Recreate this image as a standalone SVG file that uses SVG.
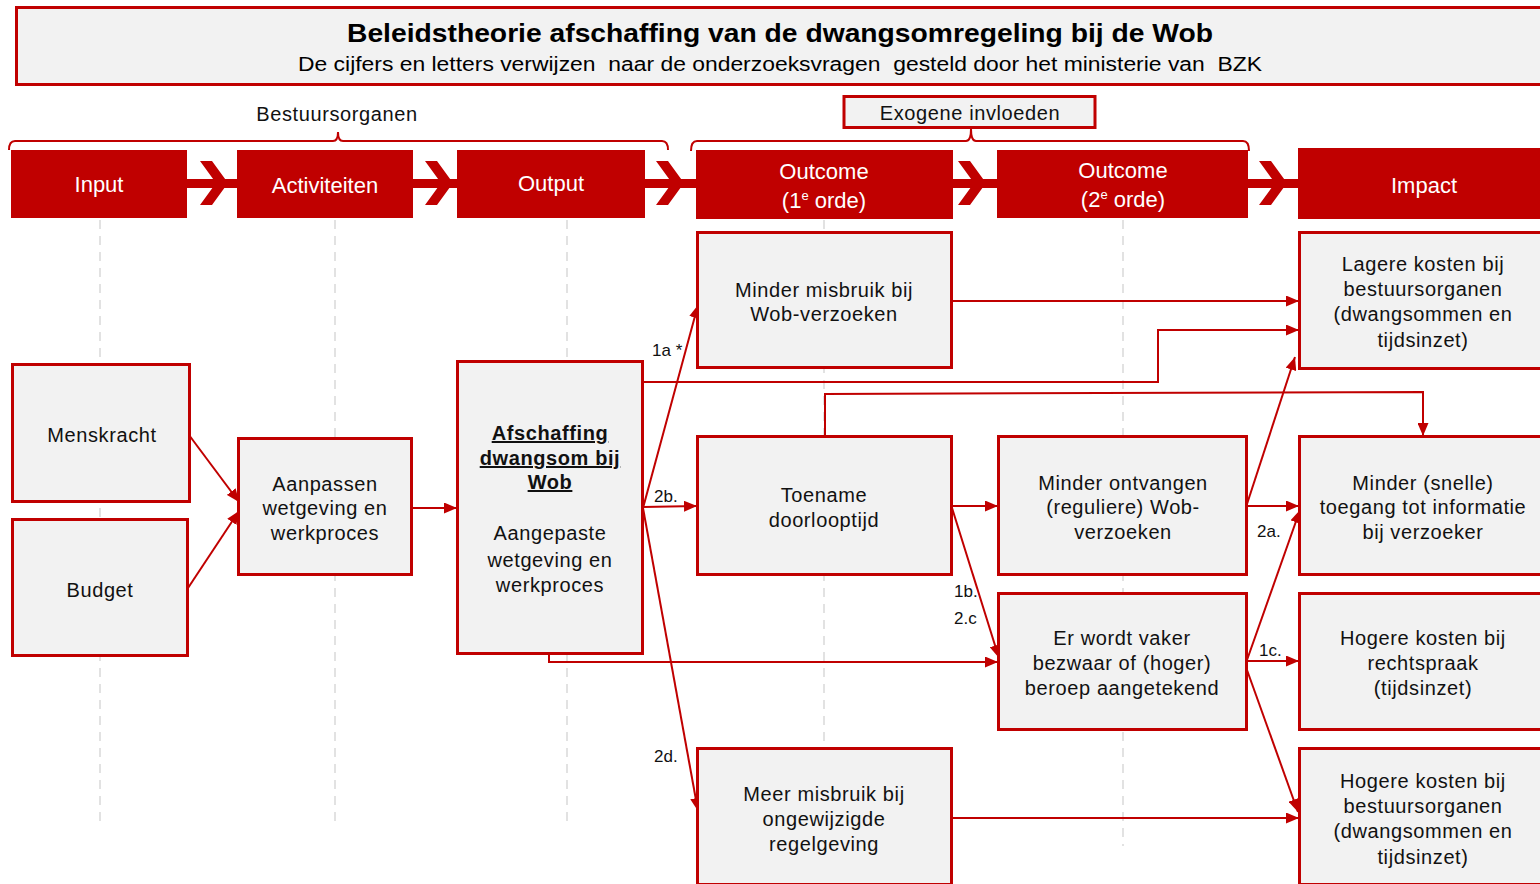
<svg xmlns="http://www.w3.org/2000/svg" width="1540" height="884" viewBox="0 0 1540 884">
<defs>
<style>
.box{fill:#f2f2f2;stroke:#c00000;stroke-width:3}
.hdr{fill:#c00000}
.ht{font-family:"Liberation Sans",Arial,sans-serif;font-size:22px;fill:#ffffff;text-anchor:middle}
.t{font-family:"Liberation Sans",Arial,sans-serif;font-size:20px;letter-spacing:0.6px;fill:#111;text-anchor:middle}
.lbl{font-family:"Liberation Sans",Arial,sans-serif;font-size:17px;fill:#111}
.c{fill:none;stroke:#c00000;stroke-width:2}
.ca{fill:none;stroke:#c00000;stroke-width:2;marker-end:url(#ah)}
.dash{stroke:#d9d9d9;stroke-width:1.5;stroke-dasharray:9 7}
.brace{fill:none;stroke:#c00000;stroke-width:2}
</style>
<marker id="ah" markerWidth="13" markerHeight="11" refX="13" refY="5.5" orient="auto" markerUnits="userSpaceOnUse">
<path d="M0,0 L13,5.5 L0,11 z" fill="#c00000"/>
</marker>
<polygon id="chev" points="0,-22 12,-22 28,0 12,22 0,22 16,0" fill="#c00000"/>
</defs>

<g id="title">
<rect x="16.5" y="7.5" width="1540" height="77" fill="#f2f2f2" stroke="#c00000" stroke-width="3"/>
<text x="780" y="42" font-family="Liberation Sans,Arial,sans-serif" font-size="26" font-weight="bold" text-anchor="middle" textLength="866" lengthAdjust="spacingAndGlyphs" fill="#000">Beleidstheorie afschaffing van de dwangsomregeling bij de Wob</text>
<text x="780" y="71" font-family="Liberation Sans,Arial,sans-serif" font-size="20" text-anchor="middle" textLength="964" lengthAdjust="spacingAndGlyphs" fill="#000" xml:space="preserve">De cijfers en letters verwijzen  naar de onderzoeksvragen  gesteld door het ministerie van  BZK</text>
</g>

<g id="grid">
<line class="dash" x1="100" y1="220" x2="100" y2="826"/>
<line class="dash" x1="335" y1="220" x2="335" y2="826"/>
<line class="dash" x1="567" y1="220" x2="567" y2="826"/>
<line class="dash" x1="824" y1="220" x2="824" y2="826"/>
<line class="dash" x1="1123" y1="220" x2="1123" y2="846"/>
</g>

<g id="bestuursorganen">
<path class="brace" d="M9,150 Q9,141 15,141 H333 Q338,141 338,132 Q338,141 343,141 H662 Q668,141 668,150"/>
<text class="t" x="337" y="121">Bestuursorganen</text>
</g>

<g id="exogeen">
<path class="brace" d="M691,151 Q691,141 697,141 H966 Q971,141 971,129 Q971,141 976,141 H1243 Q1249,141 1249,151"/>
<rect x="844" y="96.5" width="251" height="31" fill="#f2f2f2" stroke="#c00000" stroke-width="3"/>
<text class="t" x="970" y="120">Exogene invloeden</text>
</g>

<g id="header">
<rect class="hdr" x="187" y="179" width="52" height="9"/>
<rect class="hdr" x="413" y="179" width="46" height="9"/>
<rect class="hdr" x="645" y="179" width="53" height="9"/>
<rect class="hdr" x="952" y="179" width="47" height="9"/>
<rect class="hdr" x="1247" y="179" width="53" height="9"/>
<use href="#chev" x="200" y="183"/>
<use href="#chev" x="425" y="183"/>
<use href="#chev" x="656" y="183"/>
<use href="#chev" x="958" y="183"/>
<use href="#chev" x="1259" y="183"/>
<g id="h-input"><rect class="hdr" x="11" y="150" width="176" height="68"/><text class="ht" x="99" y="192">Input</text></g>
<g id="h-activiteiten"><rect class="hdr" x="237" y="150" width="176" height="68"/><text class="ht" x="325" y="193">Activiteiten</text></g>
<g id="h-output"><rect class="hdr" x="457" y="150" width="188" height="68"/><text class="ht" x="551" y="191">Output</text></g>
<g id="h-outcome1"><rect class="hdr" x="696" y="150" width="257" height="69"/><text class="ht" x="824" y="179">Outcome</text><text class="ht" x="824" y="208">(1<tspan font-size="13" dy="-8">e</tspan><tspan dy="8"> orde)</tspan></text></g>
<g id="h-outcome2"><rect class="hdr" x="997" y="150" width="251" height="68"/><text class="ht" x="1123" y="178">Outcome</text><text class="ht" x="1123" y="207">(2<tspan font-size="13" dy="-8">e</tspan><tspan dy="8"> orde)</tspan></text></g>
<g id="h-impact"><rect class="hdr" x="1298" y="148" width="250" height="71"/><text class="ht" x="1424" y="193">Impact</text></g>
</g>

<g id="connectors">
<path class="ca" d="M189,435 L239,502"/>
<path class="ca" d="M188,588 L239,511"/>
<path class="ca" d="M412,508 L457,508"/>
<path class="ca" d="M643,508 L698,305"/>
<path class="ca" d="M643,507 L697,506"/>
<path class="ca" d="M643,508 L698,811"/>
<path class="ca" d="M643,382 H1158 V330 H1299"/>
<path class="ca" d="M549,654 V662 H998"/>
<path class="ca" d="M952,301 H1299"/>
<path class="ca" d="M825,436 V394 L1423,392 V436"/>
<path class="ca" d="M952,506 H998"/>
<path class="ca" d="M952,508 L999,658"/>
<path class="ca" d="M1247,506 H1299"/>
<path class="ca" d="M1247,504 L1295,357"/>
<path class="ca" d="M1247,661 H1299"/>
<path class="ca" d="M1247,660 L1300,510"/>
<path class="ca" d="M1247,670 L1298,812"/>
<path class="ca" d="M952,818 H1299"/>
<text class="lbl" x="652" y="356">1a *</text>
<text class="lbl" x="654" y="502">2b.</text>
<text class="lbl" x="654" y="762">2d.</text>
<text class="lbl" x="954" y="597">1b.</text>
<text class="lbl" x="954" y="624">2.c</text>
<text class="lbl" x="1257" y="537">2a.</text>
<text class="lbl" x="1259" y="656">1c.</text>
</g>

<g id="n-menskracht"><rect class="box" x="12.5" y="364.5" width="177" height="137"/><text class="t" x="102" y="442">Menskracht</text></g>
<g id="n-budget"><rect class="box" x="12.5" y="519.5" width="175" height="136"/><text class="t" x="100" y="597">Budget</text></g>
<g id="n-aanpassen"><rect class="box" x="238.5" y="438.5" width="173" height="136"/><text class="t" x="325" y="491">Aanpassen</text><text class="t" x="325" y="515">wetgeving en</text><text class="t" x="325" y="540">werkproces</text></g>
<g id="n-afschaffing"><rect class="box" x="457.5" y="361.5" width="185" height="292"/>
<text class="t" x="550" y="440" font-weight="bold" text-decoration="underline" letter-spacing="0">Afschaffing</text>
<text class="t" x="550" y="465" font-weight="bold" text-decoration="underline" letter-spacing="0">dwangsom bij</text>
<text class="t" x="550" y="489" font-weight="bold" text-decoration="underline" letter-spacing="0">Wob</text>
<text class="t" x="550" y="540">Aangepaste</text><text class="t" x="550" y="567">wetgeving en</text><text class="t" x="550" y="592">werkproces</text></g>
<g id="n-minder-misbruik"><rect class="box" x="697.5" y="232.5" width="254" height="135"/><text class="t" x="824" y="297">Minder misbruik bij</text><text class="t" x="824" y="321">Wob-verzoeken</text></g>
<g id="n-toename"><rect class="box" x="697.5" y="436.5" width="254" height="138"/><text class="t" x="824" y="502">Toename</text><text class="t" x="824" y="527">doorlooptijd</text></g>
<g id="n-meer-misbruik"><rect class="box" x="697.5" y="748.5" width="254" height="136"/><text class="t" x="824" y="801">Meer misbruik bij</text><text class="t" x="824" y="826">ongewijzigde</text><text class="t" x="824" y="851">regelgeving</text></g>
<g id="n-minder-ontvangen"><rect class="box" x="998.5" y="436.5" width="248" height="138"/><text class="t" x="1123" y="490">Minder ontvangen</text><text class="t" x="1123" y="514">(reguliere) Wob-</text><text class="t" x="1123" y="539">verzoeken</text></g>
<g id="n-bezwaar"><rect class="box" x="998.5" y="593.5" width="248" height="136"/><text class="t" x="1122" y="645">Er wordt vaker</text><text class="t" x="1122" y="670">bezwaar of (hoger)</text><text class="t" x="1122" y="695">beroep aangetekend</text></g>
<g id="n-lagere-kosten"><rect class="box" x="1299.5" y="232.5" width="250" height="136"/><text class="t" x="1423" y="271">Lagere kosten bij</text><text class="t" x="1423" y="296">bestuursorganen</text><text class="t" x="1423" y="321">(dwangsommen en</text><text class="t" x="1423" y="347">tijdsinzet)</text></g>
<g id="n-toegang"><rect class="box" x="1299.5" y="436.5" width="250" height="138"/><text class="t" x="1423" y="490">Minder (snelle)</text><text class="t" x="1423" y="514">toegang tot informatie</text><text class="t" x="1423" y="539">bij verzoeker</text></g>
<g id="n-rechtspraak"><rect class="box" x="1299.5" y="593.5" width="250" height="136"/><text class="t" x="1423" y="645">Hogere kosten bij</text><text class="t" x="1423" y="670">rechtspraak</text><text class="t" x="1423" y="695">(tijdsinzet)</text></g>
<g id="n-hogere-bestuur"><rect class="box" x="1299.5" y="748.5" width="250" height="136"/><text class="t" x="1423" y="788">Hogere kosten bij</text><text class="t" x="1423" y="813">bestuursorganen</text><text class="t" x="1423" y="838">(dwangsommen en</text><text class="t" x="1423" y="864">tijdsinzet)</text></g>
</svg>
